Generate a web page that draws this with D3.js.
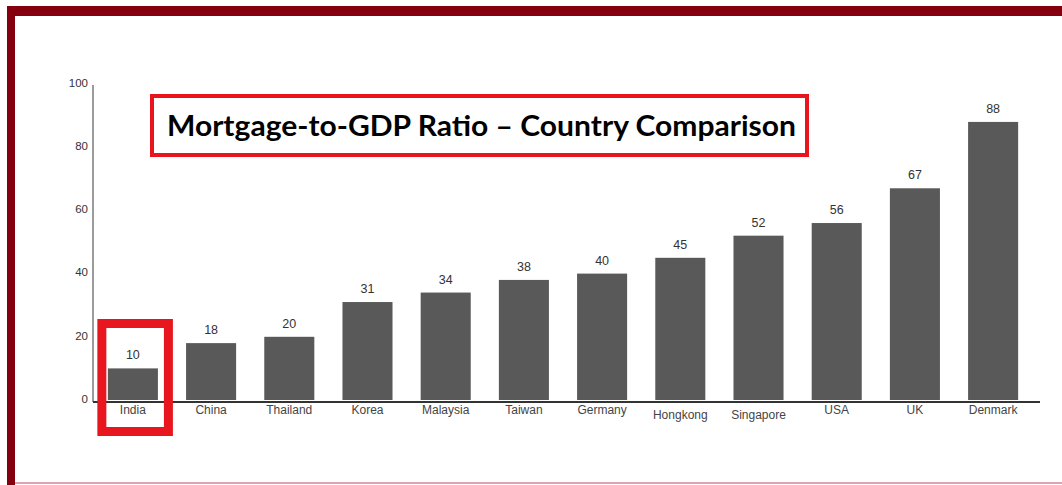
<!DOCTYPE html>
<html>
<head>
<meta charset="utf-8">
<script src="https://cdn.jsdelivr.net/npm/d3@7"></script>
<style>
  html, body { margin: 0; padding: 0; background: #fff; }
  svg { display: block; }
</style>
</head>
<body>
<svg id="chart" width="1062" height="485"></svg>
<script>
const countries = ["India","China","Thailand","Korea","Malaysia","Taiwan","Germany","Hongkong","Singapore","USA","UK","Denmark"];
const ratios = [10,18,20,31,34,38,40,45,52,56,67,88];
const yTicks = [0,20,40,60,80,100];
const labelDrop = [0,0,0,0,0,0,0,1,1,0,0,0];
const chartTitle = "Mortgage-to-GDP Ratio \u2013 Country Comparison";
const highlighted = "India";

const svg = d3.select("#chart");

// frame
svg.append("rect").attr("x", 7).attr("y", 6).attr("width", 1055).attr("height", 10).attr("fill", "#85000f");
svg.append("rect").attr("x", 7).attr("y", 6).attr("width", 8).attr("height", 479).attr("fill", "#85000f");
svg.append("rect").attr("x", 15).attr("y", 482).attr("width", 1047).attr("height", 2).attr("fill", "#e2a3ae");

const x = d3.scaleBand().domain(countries).range([93, 1033]).paddingInner(0.36).paddingOuter(0.19);
const y = d3.scaleLinear().domain([0, 100]).range([400, 84]);

// y axis
const yAxis = d3.axisLeft(y).tickValues(yTicks).tickSize(0).tickPadding(5);
const gy = svg.append("g").attr("transform", "translate(93,0)").call(yAxis);
gy.select(".domain").attr("stroke", "#7a7a7a").attr("stroke-width", 1.5).attr("d", "M0,85V402");
gy.selectAll("text").attr("font-family", "'Liberation Sans', Arial, sans-serif").attr("font-size", 11.5).attr("fill", "#333").attr("dy", "0.2em");

// bars
svg.append("g").selectAll("rect").data(countries).join("rect")
  .attr("x", d => x(d))
  .attr("y", (d, i) => y(ratios[i]))
  .attr("width", x.bandwidth())
  .attr("height", (d, i) => y(0) - y(ratios[i]))
  .attr("fill", "#595959");

// value labels
svg.append("g").selectAll("text").data(countries).join("text")
  .attr("x", d => x(d) + x.bandwidth() / 2)
  .attr("y", (d, i) => y(ratios[i]) - 9)
  .attr("text-anchor", "middle")
  .attr("font-family", "'Liberation Sans', Arial, sans-serif")
  .attr("font-size", 12.5)
  .attr("fill", "#333")
  .text((d, i) => ratios[i]);

// baseline
svg.append("line").attr("x1", 93).attr("x2", 1040).attr("y1", 402).attr("y2", 402)
  .attr("stroke", "#333").attr("stroke-width", 2);

// category labels
svg.append("g").selectAll("text").data(countries).join("text")
  .attr("x", d => x(d) + x.bandwidth() / 2)
  .attr("y", (d, i) => 414 + labelDrop[i] * 5)
  .attr("text-anchor", "middle")
  .attr("font-family", "'Liberation Sans', Arial, sans-serif")
  .attr("font-size", 12)
  .attr("fill", "#444")
  .text(d => d);

// highlight box
svg.append("rect")
  .attr("x", x(highlighted) - 6)
  .attr("y", 323.5)
  .attr("width", x.bandwidth() + 16.5)
  .attr("height", 108)
  .attr("fill", "none")
  .attr("stroke", "#e8161f")
  .attr("stroke-width", 9);

// title box
svg.append("rect").attr("x", 152).attr("y", 96).attr("width", 655).attr("height", 59)
  .attr("fill", "#fff").attr("stroke", "#e8141e").attr("stroke-width", 4);
svg.append("text").attr("x", 167).attr("y", 136)
  .attr("font-family", "Lato, 'Open Sans', sans-serif")
  .attr("font-weight", "bold")
  .attr("font-size", 29)
  .attr("fill", "#000")
  .attr("textLength", 629)
  .attr("lengthAdjust", "spacingAndGlyphs")
  .text(chartTitle);
</script>
</body>
</html>
